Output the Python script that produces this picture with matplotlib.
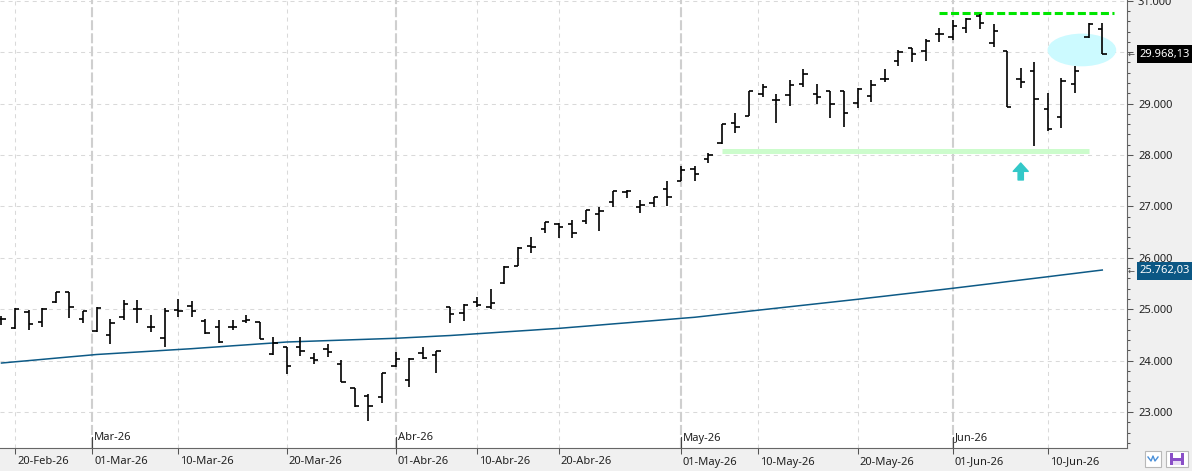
import numpy as np
import pandas as pd
import matplotlib
matplotlib.use('Agg')
import matplotlib.pyplot as plt
from matplotlib.patches import Ellipse, Rectangle
from matplotlib.lines import Line2D
from matplotlib.ticker import MultipleLocator, FuncFormatter
from matplotlib.transforms import blended_transform_factory

plt.rcParams['font.family'] = ['Noto Sans', 'DejaVu Sans']
plt.rcParams['lines.scale_dashes'] = False

W, H = 1192, 471

# trading days (US calendar: Good Friday and Memorial Day closed)
holidays = ['2026-04-03', '2026-05-25']
dates = pd.bdate_range('2026-02-19', '2026-06-16', freq='C', holidays=holidays)

opens = [24800, 24628, 24952, 24757, 25134, 25328, 24804, 24582, 24498, 24842,
         25004, 24660, 24434, 24984, 25062, 24770, 24647, 24647, 24770, 24745,
         24122, 24258, 24258, 24044, 24226, 23927, 23460, 23311, 23298, 23895,
         23623, 24154, 24109, 25043, 24920, 25147, 25049, 25503, 25847, 26236,
         26554, 26658, 26658, 26716, 26852, 27079, 27280, 26982, 27073, 27332,
         27501, 27721, 27916, 28227, 28629, 28765, 29187, 29064, 29167, 29381,
         29187, 29239, 29239, 29005, 29154, 29473, 29835, 30080, 30023, 30348,
         30290, 30465, 30710, 30185, 30020, 29473, 29640, 28895, 28733, 29375,
         30290, 30445]
highs = [24868, 25017, 24984, 25017, 25341, 25341, 24971, 25049, 24804, 25179,
         25179, 24887, 25017, 25192, 25160, 24804, 24790, 24790, 24887, 24757,
         24465, 24271, 24453, 24154, 24323, 24012, 23465, 23344, 23752, 24174,
         24057, 24258, 24193, 25049, 25101, 25244, 25393, 25840, 26204, 26411,
         26703, 26671, 26735, 26930, 26995, 27306, 27319, 27125, 27189, 27494,
         27786, 27786, 28045, 28603, 28823, 29245, 29381, 29187, 29459, 29673,
         29381, 29245, 29245, 29297, 29459, 29673, 30043, 30088, 30257, 30465,
         30626, 30659, 30740, 30543, 30029, 29687, 29803, 29200, 29492, 29731,
         30574, 30562]
lows = [24693, 24620, 24595, 24647, 25127, 24822, 24738, 24563, 24323, 24790,
        24738, 24563, 24271, 24855, 24855, 24518, 24336, 24595, 24725, 24414,
        24109, 23739, 24096, 23927, 24076, 23577, 23104, 22831, 23181, 23882,
        23493, 24031, 23765, 24738, 24777, 25049, 24998, 25495, 25840, 26100,
        26476, 26392, 26392, 26658, 26528, 26982, 27157, 26865, 26982, 27014,
        27490, 27501, 27838, 28214, 28434, 28760, 29135, 28616, 28960, 29329,
        28986, 28714, 28551, 28908, 29037, 29420, 29737, 29803, 29835, 30204,
        30237, 30368, 30445, 30095, 28928, 29298, 28181, 28467, 28531, 29212,
        30282, 29959]
closes = [24810, 25010, 24712, 24998, 25335, 25036, 24958, 25017, 24725, 25095,
          25010, 24647, 24958, 24971, 24958, 24531, 24368, 24650, 24790, 24420,
          24349, 23895, 24187, 24012, 24161, 23580, 23123, 23123, 23752, 24025,
          24031, 24044, 24187, 24900, 25082, 25075, 25114, 25827, 26200, 26204,
          26690, 26593, 26476, 26924, 26917, 27293, 27290, 27027, 27176, 27176,
          27702, 27635, 28000, 28600, 28551, 29240, 29329, 29064, 29362, 29576,
          29122, 28992, 28823, 29290, 29362, 29480, 29998, 29965, 30218, 30348,
          30510, 30650, 30562, 30418, 28940, 29420, 29089, 28500, 29446, 29634,
          30543, 29968.13]
ma = [23953, 23977, 24000, 24024, 24048, 24072, 24095, 24119, 24135, 24151,
      24167, 24183, 24200, 24216, 24232, 24251, 24269, 24288, 24306, 24325,
      24343, 24362, 24371, 24380, 24389, 24398, 24407, 24416, 24425, 24434,
      24448, 24461, 24475, 24488, 24505, 24523, 24540, 24558, 24575, 24592,
      24610, 24627, 24649, 24670, 24692, 24714, 24735, 24757, 24778, 24800,
      24822, 24843, 24872, 24902, 24931, 24961, 24990, 25019, 25048, 25077,
      25106, 25135, 25164, 25193, 25224, 25254, 25285, 25315, 25346, 25376,
      25407, 25439, 25471, 25503, 25536, 25568, 25600, 25632, 25665, 25697,
      25730, 25762.03]

tick_dates = ['2026-02-20', '2026-03-01', '2026-03-10', '2026-03-20', '2026-04-01',
              '2026-04-10', '2026-04-20', '2026-05-01', '2026-05-10', '2026-05-20',
              '2026-06-01', '2026-06-10']
tick_labels = ['20-Feb-26', '01-Mar-26', '10-Mar-26', '20-Mar-26', '01-Abr-26',
               '10-Abr-26', '20-Abr-26', '01-May-26', '10-May-26', '20-May-26',
               '01-Jun-26', '10-Jun-26']
month_dates = ['2026-03-01', '2026-04-01', '2026-05-01', '2026-06-01']
month_labels = ['Mar-26', 'Abr-26', 'May-26', 'Jun-26']

# price levels shown on the right scale (30.000 sits under the last-price box)
price_ticks = [23000, 24000, 25000, 26000, 27000, 28000, 29000, 31000]

resistance = 30757
resistance_span = ('2026-05-29', '2026-06-16')
support = 28080
support_span = ('2026-05-06', '2026-06-15')
circle_center = 30043
circle_span = ('2026-06-12', '2026-06-15')
arrow_date = '2026-06-08'
arrow_range = (27514, 27844)

idx = np.arange(len(dates))
days = (dates - dates[0]).days.values


def pos(d):
    return np.interp((pd.Timestamp(d) - dates[0]).days, days, idx)


def fx(x):
    return x / W


def fy(y):
    return 1 - y / H


fig = plt.figure(figsize=(W / 100, H / 100), dpi=100)
fig.patch.set_facecolor('#f0f0f0')
ax = fig.add_axes([0, fy(448), fx(1127), 448 / H])
ax.set_facecolor('white')
ax.set_xlim(-0.11, 82.82)
ax.set_ylim(22300, 31015)

# grid
for v in range(23000, 31001, 1000):
    ax.axhline(v, color='#d9d9d9', lw=0.75, dashes=(2.9, 2.9), zorder=0)
tick_pos = [pos(d) for d in tick_dates]
for d, p in zip(tick_dates, tick_pos):
    if d in month_dates:
        ax.axvline(p, color='#cfcfcf', lw=1.5, dashes=(7.2, 2.2), zorder=0)
    else:
        ax.axvline(p, color='#d9d9d9', lw=0.75, dashes=(2.9, 2.9), zorder=0)

# annotations behind bars
sx0, sx1 = pos(support_span[0]), pos(support_span[1])
ax.plot([sx0, sx1], [support, support], color='#ccfccc', lw=3.6,
        solid_capstyle='butt', zorder=1)
c0, c1 = pos(circle_span[0]), pos(circle_span[1])
ax.add_patch(Ellipse(((c0 + c1) / 2, circle_center), 5.05, 636,
                     facecolor='#ccfaff', edgecolor='none', zorder=1))
rx0, rx1 = pos(resistance_span[0]), pos(resistance_span[1]) + 0.9
ax.plot([rx0, rx1], [resistance, resistance], color='#00e600', lw=2.2,
        dashes=(5.8, 2.5), zorder=3)
ap = pos(arrow_date)
ax.annotate('', xy=(ap, arrow_range[1]), xytext=(ap, arrow_range[0]),
            arrowprops=dict(arrowstyle='simple,head_width=1.08,head_length=0.6,tail_width=0.38',
                            mutation_scale=10, color='#33c8c8', shrinkA=0, shrinkB=0))

# moving average
ax.plot(idx, ma, color='#0d5a86', lw=1.1, zorder=2)

# OHLC bars
tk = 0.32
ax.vlines(idx, lows, highs, color='black', lw=1.2, zorder=4)
ax.hlines(opens, idx - tk, idx, color='black', lw=1.2, zorder=4)
ax.hlines(closes, idx, idx + tk, color='black', lw=1.2, zorder=4)

# axes styling
for s in ['left', 'top']:
    ax.spines[s].set_visible(False)
for s in ['bottom', 'right']:
    ax.spines[s].set_color('#666666')
    ax.spines[s].set_linewidth(0.8)

ax.yaxis.tick_right()
ax.set_yticks(range(23000, 31001, 1000))
ax.yaxis.set_minor_locator(MultipleLocator(200))
ax.yaxis.set_major_formatter(FuncFormatter(
    lambda v, p: f'{v:,.0f}'.replace(',', '.') if round(v) in price_ticks else ''))
ax.tick_params(axis='y', which='major', length=4.3, width=0.75, color='#555555',
               pad=3.6, labelsize=8, labelcolor='#222222')
ax.tick_params(axis='y', which='minor', length=2.5, width=0.75, color='#555555')

ax.set_xticks(tick_pos)
ax.set_xticklabels([])
ax.tick_params(axis='x', length=4.3, width=0.75, color='#555555')

for p, lab in zip(tick_pos, tick_labels):
    ax.annotate(lab, xy=(p, 0), xycoords=('data', 'axes fraction'), xytext=(2, -14),
                textcoords='offset pixels', ha='left', va='center', fontsize=8,
                color='#222222', annotation_clip=False)

blend = blended_transform_factory(ax.transData, ax.transAxes)
for d, lab in zip(month_dates, month_labels):
    p = pos(d)
    ax.plot([p, p], [0, 11 / 448], transform=blend, color='#444444', lw=0.8, clip_on=False)
    ax.annotate(lab, xy=(p, 0), xycoords=('data', 'axes fraction'), xytext=(2, 10),
                textcoords='offset pixels', ha='left', va='center', fontsize=8,
                color='#222222')


def prect(x0, y0, x1, y1, **kw):
    fig.add_artist(Rectangle((fx(x0), fy(y1)), fx(x1) - fx(x0), fy(y0) - fy(y1),
                             transform=fig.transFigure, **kw))


# last price and moving average labels
for val, ypx, col in [(closes[-1], 54, 'black'), (ma[-1], 271, '#0b5784')]:
    prect(1137, ypx - 9, 1193, ypx + 9, facecolor=col, edgecolor='none')
    txt = f'{val:,.2f}'.replace(',', 'X').replace('.', ',').replace('X', '.')
    fig.text(fx(1139), fy(ypx), txt, color='white', fontsize=8, ha='left', va='center')
    fig.text(fx(1131), fy(ypx), '\u2190', color='#444444', fontsize=6,
             ha='center', va='center', family='DejaVu Sans')

# toolbar icons
prect(1145, 451, 1161, 467, facecolor='white', edgecolor='#b8b8b8', lw=0.8)
fig.add_artist(Line2D([fx(1148), fx(1151), fx(1153), fx(1155), fx(1158)],
                      [fy(457), fy(461), fy(456), fy(461), fy(457)],
                      transform=fig.transFigure, color='#4a90d9', lw=1))
prect(1166, 451, 1188, 467, facecolor='white', edgecolor='#b8b8b8', lw=0.8)
prect(1170, 453, 1184, 465, facecolor='#8a4fc7', edgecolor='none')
prect(1173, 453, 1181, 458, facecolor='white', edgecolor='none')
prect(1173, 461, 1181, 465, facecolor='#e8dcf5', edgecolor='none')

fig.savefig('out.png', dpi=100, facecolor=fig.get_facecolor())
